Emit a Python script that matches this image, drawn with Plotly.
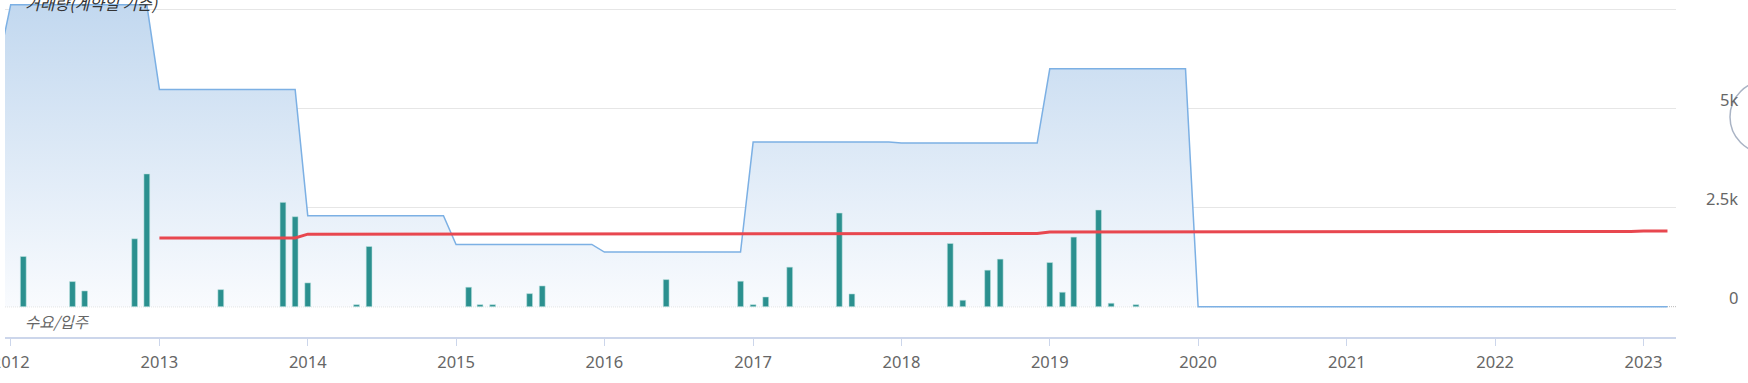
import plotly.graph_objects as go

# ---- data ----
# 수요/입주 bars (monthly)
bar_dates = ["2012-02", "2012-06", "2012-07", "2012-11", "2012-12", "2013-06", "2013-11",
             "2013-12", "2014-01", "2014-05", "2014-06", "2015-02", "2015-03", "2015-04",
             "2015-07", "2015-08", "2016-06", "2016-12", "2017-01", "2017-02", "2017-04",
             "2017-08", "2017-09", "2018-05", "2018-06", "2018-08", "2018-09", "2019-01",
             "2019-02", "2019-03", "2019-05", "2019-06", "2019-08"]
bar_values = [1266, 633, 397, 1713, 3350, 430, 2632,
              2270, 600, 50, 1518, 491, 50, 50,
              329, 523, 683, 642, 50, 245, 997,
              2363, 321, 1594, 162, 921, 1200, 1113,
              364, 1756, 2439, 86, 50]

# 거래량(계약일 기준) area (yearly level, drawn monthly)
area_dates = ["2011-12", "2012-01", "2012-12", "2013-01", "2013-12", "2014-01", "2014-12",
              "2015-01", "2015-12", "2016-01", "2016-12", "2017-01", "2017-12", "2018-01",
              "2018-12", "2019-01", "2019-12", "2020-01", "2023-03"]
area_values = [6100, 7617, 7617, 5481, 5481, 2297, 2297,
               1570, 1570, 1378, 1378, 4154, 4154, 4129,
               4129, 6003, 6003, 0, 0]

# red line
line_dates = ["2013-01", "2013-12", "2014-01", "2015-12", "2016-01", "2018-12", "2019-01",
              "2020-12", "2021-01", "2021-12", "2022-01", "2022-12", "2023-01", "2023-03"]
line_values = [1733, 1733, 1830, 1830, 1842, 1845, 1885,
               1885, 1892, 1892, 1900, 1900, 1912, 1912]

year_ticks = [f"{y}-01-01" for y in range(2012, 2024)]
year_labels = [str(y) for y in range(2012, 2024)]
y_ticks = [0, 2500, 5000]
y_labels = ["0", "2.5k", "5k"]
grid_vals = [2500, 5000, 7500]

title_text = "거래량(계약일 기준)"
sub_text = "수요/입주"

Y_RANGE = [-765, 7738]

fig = go.Figure()

fig.add_trace(go.Scatter(
    x=area_dates, y=area_values, mode="lines",
    line=dict(color="#7cb0e4", width=1.5),
    fill="tozeroy",
    fillgradient=dict(type="vertical",
                      colorscale=[[0, "rgb(249,251,254)"], [1, "rgb(194,216,239)"]]),
    hoverinfo="skip", yaxis="y",
))

fig.add_trace(go.Bar(
    x=bar_dates, y=bar_values,
    marker=dict(color="#2b908f", line=dict(color="rgba(190,228,226,0.9)", width=0.6)),
    width=14.3 * 86400000,
    hoverinfo="skip", yaxis="y2",
))

fig.add_trace(go.Scatter(
    x=line_dates, y=line_values, mode="lines",
    line=dict(color="#e8474f", width=3),
    hoverinfo="skip", yaxis="y2",
))

L, R, T, B = 5, 72, 0, 46
W, H = 1748, 383
plot_w = W - L - R
plot_h = H - T - B

fig.update_layout(
    width=W, height=H,
    margin=dict(l=L, r=R, t=T, b=B, autoexpand=False),
    paper_bgcolor="white", plot_bgcolor="white",
    showlegend=False, bargap=0,
    hovermode=False,
    font=dict(family="Noto Sans, Noto Sans CJK KR", color="#666666"),
    yaxis=dict(range=Y_RANGE, tickvals=grid_vals, showticklabels=False,
               showgrid=True, gridcolor="#e6e6e6", gridwidth=1, automargin=False,
               zeroline=False, showline=False, ticks=""),
    yaxis2=dict(range=Y_RANGE, overlaying="y", showticklabels=False, automargin=False,
                showgrid=False, zeroline=False, showline=False, ticks=""),
)

fig.update_xaxes(
    type="date",
    range=["2011-12-18", "2023-03-22"],
    tickvals=year_ticks, ticktext=year_labels,
    ticks="outside", ticklen=7, tickcolor="#ccd6eb", tickwidth=1,
    showline=True, linecolor="#ccd6eb", linewidth=1.5,
    showgrid=False, zeroline=False, automargin=False,
    tickfont=dict(size=16.5, color="#666666", family="Noto Sans"),
    ticklabelstandoff=3,
    ticklabeloverflow="allow",
)

# dotted zero line
fig.add_shape(type="line", xref="paper", yref="y", x0=0, x1=1, y0=0, y1=0,
              line=dict(color="#b8b8b8", width=1, dash="1px,1px"), layer="below")

# right axis labels (offset above gridline as in the original)
for v, t in zip(y_ticks, y_labels):
    fig.add_annotation(xref="paper", yref="y", x=(1740 - L) / plot_w, y=v,
                       text=t, showarrow=False, xanchor="right", yanchor="middle",
                       yshift=9, font=dict(size=16.5, color="#666666", family="Noto Sans"))

# series labels
fig.add_annotation(xref="paper", yref="paper", x=(23 - L) / plot_w, y=1 - 3 / plot_h,
                   text=f"<i>{title_text}</i>", showarrow=False,
                   xanchor="left", yanchor="middle",
                   font=dict(size=16, color="#333333", family="Noto Sans CJK KR"))
fig.add_annotation(xref="paper", yref="paper", x=(23 - L) / plot_w, y=1 - 321 / plot_h,
                   text=f"<i>{sub_text}</i>", showarrow=False,
                   xanchor="left", yanchor="middle",
                   font=dict(size=15.5, color="#666666", family="Noto Sans CJK KR"))

# partially visible round button at the right edge
fig.add_shape(type="circle", xref="paper", yref="paper",
              x0=(1730 - L) / plot_w, x1=(1802 - L) / plot_w,
              y0=1 - 153 / plot_h, y1=1 - 81 / plot_h,
              line=dict(color="#a9b3c4", width=1.5), fillcolor="rgba(255,255,255,0)",
              layer="above")

fig.write_html(
    "out.html",
    config={"displayModeBar": False, "staticPlot": True},
    post_script="document.documentElement.style.margin='0';"
                "document.body.style.margin='0';"
                "document.body.style.overflow='hidden';",
)
